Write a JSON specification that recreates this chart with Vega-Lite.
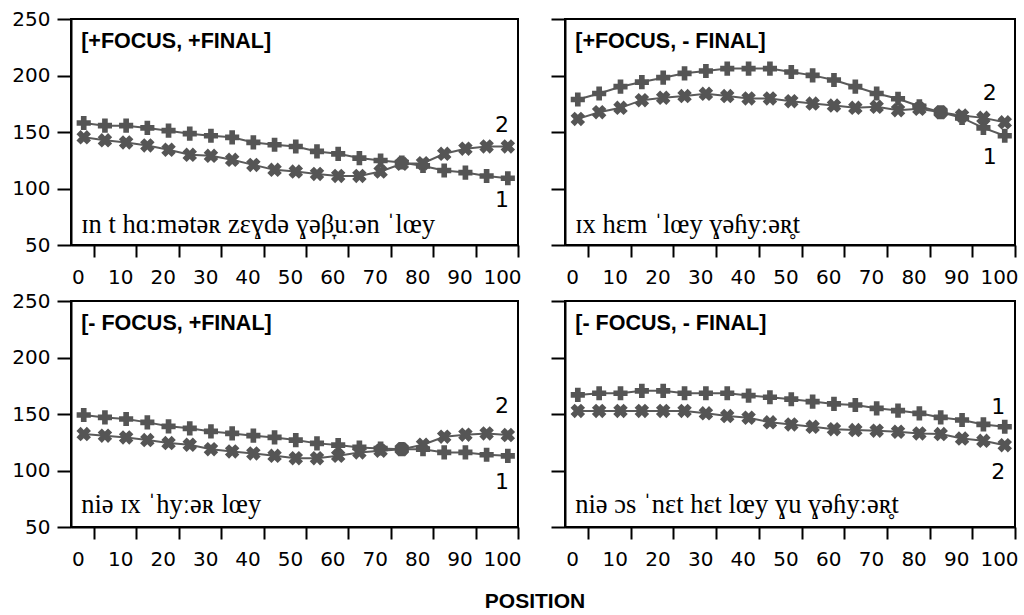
{
  "$schema": "https://vega.github.io/schema/vega-lite/v6.json",
  "background": "white",
  "padding": {"left": 10, "top": 8, "right": 5, "bottom": 0},
  "title": {"text": "POSITION", "orient": "bottom", "anchor": "middle", "font": "Liberation Sans", "fontSize": 21, "fontWeight": "bold", "color": "black", "offset": 21, "dx": 20},
  "config": {
    "view": {"stroke": "black", "strokeWidth": 2},
    "axis": {"domainColor": "black", "domainWidth": 2, "tickColor": "black", "tickWidth": 2, "grid": false, "labelFont": "DejaVu Sans", "labelFontSize": 20, "labelColor": "black"}
  },
  "datasets": {
    "f0": [
      {"p":"A","s":"1","x":0,"y":158.0},{"p":"A","s":"1","x":5,"y":155.6},{"p":"A","s":"1","x":10,"y":155.6},{"p":"A","s":"1","x":15,"y":153.6},{"p":"A","s":"1","x":20,"y":151.2},{"p":"A","s":"1","x":25,"y":148.5},{"p":"A","s":"1","x":30,"y":146.7},{"p":"A","s":"1","x":35,"y":145.3},{"p":"A","s":"1","x":40,"y":140.8},{"p":"A","s":"1","x":45,"y":138.7},{"p":"A","s":"1","x":50,"y":137.2},{"p":"A","s":"1","x":55,"y":132.8},{"p":"A","s":"1","x":60,"y":130.7},{"p":"A","s":"1","x":65,"y":126.9},{"p":"A","s":"1","x":70,"y":124.8},{"p":"A","s":"1","x":75,"y":123.0},{"p":"A","s":"1","x":80,"y":120.0},{"p":"A","s":"1","x":85,"y":115.9},{"p":"A","s":"1","x":90,"y":114.1},{"p":"A","s":"1","x":95,"y":111.1},{"p":"A","s":"1","x":100,"y":109.1},
      {"p":"A","s":"2","x":0,"y":145.3},{"p":"A","s":"2","x":5,"y":142.6},{"p":"A","s":"2","x":10,"y":140.8},{"p":"A","s":"2","x":15,"y":138.1},{"p":"A","s":"2","x":20,"y":134.3},{"p":"A","s":"2","x":25,"y":129.8},{"p":"A","s":"2","x":30,"y":128.9},{"p":"A","s":"2","x":35,"y":125.4},{"p":"A","s":"2","x":40,"y":120.9},{"p":"A","s":"2","x":45,"y":116.5},{"p":"A","s":"2","x":50,"y":115.0},{"p":"A","s":"2","x":55,"y":112.9},{"p":"A","s":"2","x":60,"y":111.1},{"p":"A","s":"2","x":65,"y":111.1},{"p":"A","s":"2","x":70,"y":115.0},{"p":"A","s":"2","x":75,"y":121.8},{"p":"A","s":"2","x":80,"y":122.4},{"p":"A","s":"2","x":85,"y":130.7},{"p":"A","s":"2","x":90,"y":135.2},{"p":"A","s":"2","x":95,"y":137.2},{"p":"A","s":"2","x":100,"y":137.2},
      {"p":"B","s":"1","x":0,"y":178.8},{"p":"B","s":"1","x":5,"y":184.1},{"p":"B","s":"1","x":10,"y":190.1},{"p":"B","s":"1","x":15,"y":194.2},{"p":"B","s":"1","x":20,"y":198.1},{"p":"B","s":"1","x":25,"y":201.9},{"p":"B","s":"1","x":30,"y":204.0},{"p":"B","s":"1","x":35,"y":206.1},{"p":"B","s":"1","x":40,"y":206.1},{"p":"B","s":"1","x":45,"y":206.1},{"p":"B","s":"1","x":50,"y":203.1},{"p":"B","s":"1","x":55,"y":200.1},{"p":"B","s":"1","x":60,"y":196.0},{"p":"B","s":"1","x":65,"y":190.1},{"p":"B","s":"1","x":70,"y":184.1},{"p":"B","s":"1","x":75,"y":179.4},{"p":"B","s":"1","x":80,"y":172.8},{"p":"B","s":"1","x":85,"y":167.5},{"p":"B","s":"1","x":90,"y":162.5},{"p":"B","s":"1","x":95,"y":153.6},{"p":"B","s":"1","x":100,"y":146.7},
      {"p":"B","s":"2","x":0,"y":161.6},{"p":"B","s":"2","x":5,"y":167.5},{"p":"B","s":"2","x":10,"y":171.4},{"p":"B","s":"2","x":15,"y":178.2},{"p":"B","s":"2","x":20,"y":180.3},{"p":"B","s":"2","x":25,"y":181.8},{"p":"B","s":"2","x":30,"y":183.8},{"p":"B","s":"2","x":35,"y":181.8},{"p":"B","s":"2","x":40,"y":179.7},{"p":"B","s":"2","x":45,"y":179.7},{"p":"B","s":"2","x":50,"y":177.3},{"p":"B","s":"2","x":55,"y":175.2},{"p":"B","s":"2","x":60,"y":173.4},{"p":"B","s":"2","x":65,"y":171.4},{"p":"B","s":"2","x":70,"y":172.3},{"p":"B","s":"2","x":75,"y":169.3},{"p":"B","s":"2","x":80,"y":170.5},{"p":"B","s":"2","x":85,"y":167.5},{"p":"B","s":"2","x":90,"y":164.5},{"p":"B","s":"2","x":95,"y":162.5},{"p":"B","s":"2","x":100,"y":158.6},
      {"p":"C","s":"1","x":0,"y":149.1},{"p":"C","s":"1","x":5,"y":147.0},{"p":"C","s":"1","x":10,"y":145.6},{"p":"C","s":"1","x":15,"y":142.6},{"p":"C","s":"1","x":20,"y":139.1},{"p":"C","s":"1","x":25,"y":137.3},{"p":"C","s":"1","x":30,"y":134.6},{"p":"C","s":"1","x":35,"y":132.8},{"p":"C","s":"1","x":40,"y":130.8},{"p":"C","s":"1","x":45,"y":129.3},{"p":"C","s":"1","x":50,"y":126.9},{"p":"C","s":"1","x":55,"y":124.0},{"p":"C","s":"1","x":60,"y":122.5},{"p":"C","s":"1","x":65,"y":120.4},{"p":"C","s":"1","x":70,"y":119.5},{"p":"C","s":"1","x":75,"y":118.9},{"p":"C","s":"1","x":80,"y":118.9},{"p":"C","s":"1","x":85,"y":116.0},{"p":"C","s":"1","x":90,"y":116.0},{"p":"C","s":"1","x":95,"y":113.9},{"p":"C","s":"1","x":100,"y":113.0},
      {"p":"C","s":"2","x":0,"y":132.2},{"p":"C","s":"2","x":5,"y":130.8},{"p":"C","s":"2","x":10,"y":129.3},{"p":"C","s":"2","x":15,"y":126.9},{"p":"C","s":"2","x":20,"y":124.3},{"p":"C","s":"2","x":25,"y":122.8},{"p":"C","s":"2","x":30,"y":118.9},{"p":"C","s":"2","x":35,"y":116.9},{"p":"C","s":"2","x":40,"y":115.1},{"p":"C","s":"2","x":45,"y":113.0},{"p":"C","s":"2","x":50,"y":110.9},{"p":"C","s":"2","x":55,"y":110.9},{"p":"C","s":"2","x":60,"y":113.0},{"p":"C","s":"2","x":65,"y":116.0},{"p":"C","s":"2","x":70,"y":117.5},{"p":"C","s":"2","x":75,"y":118.9},{"p":"C","s":"2","x":80,"y":122.8},{"p":"C","s":"2","x":85,"y":129.9},{"p":"C","s":"2","x":90,"y":131.7},{"p":"C","s":"2","x":95,"y":132.8},{"p":"C","s":"2","x":100,"y":131.4},
      {"p":"D","s":"1","x":0,"y":166.9},{"p":"D","s":"1","x":5,"y":168.4},{"p":"D","s":"1","x":10,"y":168.4},{"p":"D","s":"1","x":15,"y":170.5},{"p":"D","s":"1","x":20,"y":170.5},{"p":"D","s":"1","x":25,"y":168.4},{"p":"D","s":"1","x":30,"y":168.4},{"p":"D","s":"1","x":35,"y":168.4},{"p":"D","s":"1","x":40,"y":166.3},{"p":"D","s":"1","x":45,"y":164.8},{"p":"D","s":"1","x":50,"y":163.1},{"p":"D","s":"1","x":55,"y":161.0},{"p":"D","s":"1","x":60,"y":158.9},{"p":"D","s":"1","x":65,"y":158.0},{"p":"D","s":"1","x":70,"y":155.0},{"p":"D","s":"1","x":75,"y":153.0},{"p":"D","s":"1","x":80,"y":150.6},{"p":"D","s":"1","x":85,"y":147.0},{"p":"D","s":"1","x":90,"y":144.7},{"p":"D","s":"1","x":95,"y":140.8},{"p":"D","s":"1","x":100,"y":138.7},
      {"p":"D","s":"2","x":0,"y":152.7},{"p":"D","s":"2","x":5,"y":152.7},{"p":"D","s":"2","x":10,"y":152.7},{"p":"D","s":"2","x":15,"y":152.7},{"p":"D","s":"2","x":20,"y":152.7},{"p":"D","s":"2","x":25,"y":152.7},{"p":"D","s":"2","x":30,"y":150.6},{"p":"D","s":"2","x":35,"y":148.2},{"p":"D","s":"2","x":40,"y":146.7},{"p":"D","s":"2","x":45,"y":142.6},{"p":"D","s":"2","x":50,"y":140.8},{"p":"D","s":"2","x":55,"y":138.7},{"p":"D","s":"2","x":60,"y":136.6},{"p":"D","s":"2","x":65,"y":135.8},{"p":"D","s":"2","x":70,"y":135.2},{"p":"D","s":"2","x":75,"y":134.3},{"p":"D","s":"2","x":80,"y":132.8},{"p":"D","s":"2","x":85,"y":132.2},{"p":"D","s":"2","x":90,"y":128.3},{"p":"D","s":"2","x":95,"y":126.3},{"p":"D","s":"2","x":100,"y":122.4}
    ]
  },
  "spacing": 2,
  "vconcat": [
    {
      "spacing": 26,
      "hconcat": [
        {
          "width": 447, "height": 226,
          "layer": [
            {"data": {"name": "f0"}, "transform": [{"filter": "datum.p === 'A'"}], "mark": {"type": "line", "color": "#5a5a5a", "strokeWidth": 2},
             "encoding": {
              "x": {"field": "x", "type": "quantitative", "title": null, "scale": {"domain": [-3, 102.4], "nice": false, "zero": false}, "axis": {"values": [2.4,12.4,22.4,32.4,42.4,52.4,62.4,72.4,82.4,92.4,102.4], "labelExpr": "format(round(datum.value - 2.4), 'd')", "labelOffset": -16, "tickSize": 12, "labelPadding": 10, "labelFlush": false, "labelOverlap": false, "labelBound": false}},
              "y": {"field": "y", "type": "quantitative", "title": null, "scale": {"domain": [50, 250], "nice": false, "zero": false}, "axis": {"values": [50,100,150,200,250], "tickSize": 14, "labelPadding": 7, "labelOverlap": false}},
              "detail": {"field": "s"}}},
            {"data": {"name": "f0"}, "transform": [{"filter": "datum.p === 'A' && datum.s === '1'"}], "mark": {"type": "point", "shape": "cross", "filled": true, "color": "#555555", "opacity": 1, "size": 200},
             "encoding": {"x": {"field": "x", "type": "quantitative"}, "y": {"field": "y", "type": "quantitative"}}},
            {"data": {"name": "f0"}, "transform": [{"filter": "datum.p === 'A' && datum.s === '2'"}], "mark": {"type": "point", "shape": "cross", "angle": 45, "filled": true, "color": "#555555", "opacity": 1, "size": 215},
             "encoding": {"x": {"field": "x", "type": "quantitative"}, "y": {"field": "y", "type": "quantitative"}}},
            {"data": {"values": [{}]}, "mark": {"type": "text", "text": "[+FOCUS, +FINAL]", "align": "left", "baseline": "middle", "font": "Liberation Sans", "fontWeight": "bold", "fontSize": 21.5, "color": "black"}, "encoding": {"x": {"datum": -0.6}, "y": {"datum": 230}}},
            {"data": {"values": [{}]}, "mark": {"type": "text", "text": "ɪn t hɑːmətəʀ zɛɣdə ɣəβ̞uːən ˈlœy", "align": "left", "baseline": "alphabetic", "font": "Liberation Serif", "fontSize": 26.5, "color": "black"}, "encoding": {"x": {"datum": -0.6}, "y": {"datum": 61}}},
            {"data": {"values": [{}]}, "mark": {"type": "text", "text": "2", "align": "center", "baseline": "middle", "font": "DejaVu Sans", "fontSize": 22, "color": "black"}, "encoding": {"x": {"datum": 98.6}, "y": {"datum": 156}}},
            {"data": {"values": [{}]}, "mark": {"type": "text", "text": "1", "align": "center", "baseline": "middle", "font": "DejaVu Sans", "fontSize": 22, "color": "black"}, "encoding": {"x": {"datum": 98.6}, "y": {"datum": 90}}}
          ]
        },
        {
          "width": 450, "height": 226,
          "layer": [
            {"data": {"name": "f0"}, "transform": [{"filter": "datum.p === 'B'"}], "mark": {"type": "line", "color": "#5a5a5a", "strokeWidth": 2},
             "encoding": {
              "x": {"field": "x", "type": "quantitative", "title": null, "scale": {"domain": [-3, 102.4], "nice": false, "zero": false}, "axis": {"values": [2.4,12.4,22.4,32.4,42.4,52.4,62.4,72.4,82.4,92.4,102.4], "labelExpr": "format(round(datum.value - 2.4), 'd')", "labelOffset": -16, "tickSize": 12, "labelPadding": 10, "labelFlush": false, "labelOverlap": false, "labelBound": false}},
              "y": {"field": "y", "type": "quantitative", "title": null, "scale": {"domain": [50, 250], "nice": false, "zero": false}, "axis": {"values": [50,100,150,200,250], "tickSize": 14, "labels": false}},
              "detail": {"field": "s"}}},
            {"data": {"name": "f0"}, "transform": [{"filter": "datum.p === 'B' && datum.s === '1'"}], "mark": {"type": "point", "shape": "cross", "filled": true, "color": "#555555", "opacity": 1, "size": 200},
             "encoding": {"x": {"field": "x", "type": "quantitative"}, "y": {"field": "y", "type": "quantitative"}}},
            {"data": {"name": "f0"}, "transform": [{"filter": "datum.p === 'B' && datum.s === '2'"}], "mark": {"type": "point", "shape": "cross", "angle": 45, "filled": true, "color": "#555555", "opacity": 1, "size": 215},
             "encoding": {"x": {"field": "x", "type": "quantitative"}, "y": {"field": "y", "type": "quantitative"}}},
            {"data": {"values": [{}]}, "mark": {"type": "text", "text": "[+FOCUS, - FINAL]", "align": "left", "baseline": "middle", "font": "Liberation Sans", "fontWeight": "bold", "fontSize": 21.5, "color": "black"}, "encoding": {"x": {"datum": -0.6}, "y": {"datum": 230}}},
            {"data": {"values": [{}]}, "mark": {"type": "text", "text": "ɪx hɛm ˈlœy ɣəɦyːəʀ̥t", "align": "left", "baseline": "alphabetic", "font": "Liberation Serif", "fontSize": 26.5, "color": "black"}, "encoding": {"x": {"datum": -0.6}, "y": {"datum": 61}}},
            {"data": {"values": [{}]}, "mark": {"type": "text", "text": "2", "align": "center", "baseline": "middle", "font": "DejaVu Sans", "fontSize": 22, "color": "black"}, "encoding": {"x": {"datum": 96.5}, "y": {"datum": 184.5}}},
            {"data": {"values": [{}]}, "mark": {"type": "text", "text": "1", "align": "center", "baseline": "middle", "font": "DejaVu Sans", "fontSize": 22, "color": "black"}, "encoding": {"x": {"datum": 96.5}, "y": {"datum": 128}}}
          ]
        }
      ]
    },
    {
      "spacing": 26,
      "hconcat": [
        {
          "width": 447, "height": 226,
          "layer": [
            {"data": {"name": "f0"}, "transform": [{"filter": "datum.p === 'C'"}], "mark": {"type": "line", "color": "#5a5a5a", "strokeWidth": 2},
             "encoding": {
              "x": {"field": "x", "type": "quantitative", "title": null, "scale": {"domain": [-3, 102.4], "nice": false, "zero": false}, "axis": {"values": [2.4,12.4,22.4,32.4,42.4,52.4,62.4,72.4,82.4,92.4,102.4], "labelExpr": "format(round(datum.value - 2.4), 'd')", "labelOffset": -16, "tickSize": 12, "labelPadding": 10, "labelFlush": false, "labelOverlap": false, "labelBound": false}},
              "y": {"field": "y", "type": "quantitative", "title": null, "scale": {"domain": [50, 250], "nice": false, "zero": false}, "axis": {"values": [50,100,150,200,250], "tickSize": 14, "labelPadding": 7, "labelOverlap": false}},
              "detail": {"field": "s"}}},
            {"data": {"name": "f0"}, "transform": [{"filter": "datum.p === 'C' && datum.s === '1'"}], "mark": {"type": "point", "shape": "cross", "filled": true, "color": "#555555", "opacity": 1, "size": 200},
             "encoding": {"x": {"field": "x", "type": "quantitative"}, "y": {"field": "y", "type": "quantitative"}}},
            {"data": {"name": "f0"}, "transform": [{"filter": "datum.p === 'C' && datum.s === '2'"}], "mark": {"type": "point", "shape": "cross", "angle": 45, "filled": true, "color": "#555555", "opacity": 1, "size": 215},
             "encoding": {"x": {"field": "x", "type": "quantitative"}, "y": {"field": "y", "type": "quantitative"}}},
            {"data": {"values": [{}]}, "mark": {"type": "text", "text": "[- FOCUS, +FINAL]", "align": "left", "baseline": "middle", "font": "Liberation Sans", "fontWeight": "bold", "fontSize": 21.5, "color": "black"}, "encoding": {"x": {"datum": -0.6}, "y": {"datum": 230}}},
            {"data": {"values": [{}]}, "mark": {"type": "text", "text": "niə ɪx ˈhyːəʀ lœy", "align": "left", "baseline": "alphabetic", "font": "Liberation Serif", "fontSize": 26.5, "color": "black"}, "encoding": {"x": {"datum": -0.6}, "y": {"datum": 62}}},
            {"data": {"values": [{}]}, "mark": {"type": "text", "text": "2", "align": "center", "baseline": "middle", "font": "DejaVu Sans", "fontSize": 22, "color": "black"}, "encoding": {"x": {"datum": 98.6}, "y": {"datum": 157.5}}},
            {"data": {"values": [{}]}, "mark": {"type": "text", "text": "1", "align": "center", "baseline": "middle", "font": "DejaVu Sans", "fontSize": 22, "color": "black"}, "encoding": {"x": {"datum": 98.6}, "y": {"datum": 90}}}
          ]
        },
        {
          "width": 450, "height": 226,
          "layer": [
            {"data": {"name": "f0"}, "transform": [{"filter": "datum.p === 'D'"}], "mark": {"type": "line", "color": "#5a5a5a", "strokeWidth": 2},
             "encoding": {
              "x": {"field": "x", "type": "quantitative", "title": null, "scale": {"domain": [-3, 102.4], "nice": false, "zero": false}, "axis": {"values": [2.4,12.4,22.4,32.4,42.4,52.4,62.4,72.4,82.4,92.4,102.4], "labelExpr": "format(round(datum.value - 2.4), 'd')", "labelOffset": -16, "tickSize": 12, "labelPadding": 10, "labelFlush": false, "labelOverlap": false, "labelBound": false}},
              "y": {"field": "y", "type": "quantitative", "title": null, "scale": {"domain": [50, 250], "nice": false, "zero": false}, "axis": {"values": [50,100,150,200,250], "tickSize": 14, "labels": false}},
              "detail": {"field": "s"}}},
            {"data": {"name": "f0"}, "transform": [{"filter": "datum.p === 'D' && datum.s === '1'"}], "mark": {"type": "point", "shape": "cross", "filled": true, "color": "#555555", "opacity": 1, "size": 200},
             "encoding": {"x": {"field": "x", "type": "quantitative"}, "y": {"field": "y", "type": "quantitative"}}},
            {"data": {"name": "f0"}, "transform": [{"filter": "datum.p === 'D' && datum.s === '2'"}], "mark": {"type": "point", "shape": "cross", "angle": 45, "filled": true, "color": "#555555", "opacity": 1, "size": 215},
             "encoding": {"x": {"field": "x", "type": "quantitative"}, "y": {"field": "y", "type": "quantitative"}}},
            {"data": {"values": [{}]}, "mark": {"type": "text", "text": "[- FOCUS, - FINAL]", "align": "left", "baseline": "middle", "font": "Liberation Sans", "fontWeight": "bold", "fontSize": 21.5, "color": "black"}, "encoding": {"x": {"datum": -0.6}, "y": {"datum": 230}}},
            {"data": {"values": [{}]}, "mark": {"type": "text", "text": "niə ɔs ˈnɛt hɛt lœy ɣu ɣəɦyːəʀ̥t", "align": "left", "baseline": "alphabetic", "font": "Liberation Serif", "fontSize": 26.5, "color": "black"}, "encoding": {"x": {"datum": -0.6}, "y": {"datum": 62}}},
            {"data": {"values": [{}]}, "mark": {"type": "text", "text": "1", "align": "center", "baseline": "middle", "font": "DejaVu Sans", "fontSize": 22, "color": "black"}, "encoding": {"x": {"datum": 98.5}, "y": {"datum": 156}}},
            {"data": {"values": [{}]}, "mark": {"type": "text", "text": "2", "align": "center", "baseline": "middle", "font": "DejaVu Sans", "fontSize": 22, "color": "black"}, "encoding": {"x": {"datum": 98.5}, "y": {"datum": 98.7}}}
          ]
        }
      ]
    }
  ]
}
